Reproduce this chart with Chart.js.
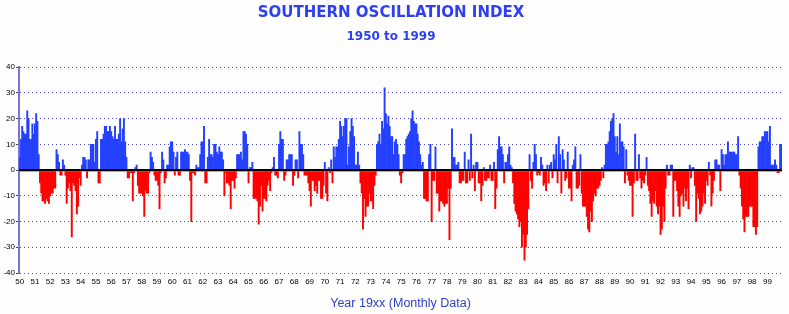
<!DOCTYPE html>
<html><head><meta charset="utf-8">
<script src="https://cdn.jsdelivr.net/npm/chart.js@4.4.0/dist/chart.umd.min.js"></script>
<style>html,body{margin:0;padding:0;background:#fefefe;}#wrap{width:789px;height:314px;position:relative}</style>
</head><body><div id="wrap"><canvas id="c" width="789" height="314"></canvas></div>
<script>
// Monthly SOI values, Jan..Dec for each year
const soi1950s = [
  5, 12, 17, 15, 14, 14, 23, 20, 12, 12, 18, 14,
  18, 22, 19, 6, -5, -9, -12, -12, -13, -11, -12, -13,
  -10, -9, -9, -7, -7, 8, 6, 3, -2, -2, 4, 2,
  -2, -13, -7, -5, -8, -26, -5, -6, -8, -17, -14, -3,
  -6, 2, 5, 5, 4, -3, 4, 4, 10, 10, 10, 3,
  12, 15, -5, -5, 12, 12, 14, 17, 17, 15, 15, 17,
  15, 13, 12, 17, 12, 12, 14, 20, 11, 16, 20, 11,
  5, -3, -3, -1, -1, -12, -1, 1, 2, -6, -9, -9,
  -9, -10, -18, -8, -9, -9, -1, 7, 5, 3, -2, -4,
  -4, -6, -15, -1, 7, 4, -5, -3, 2, 2, 9, 11
];
const soi1960s = [
  11, 7, -2, 5, 7, -2, -2, 7, 7, 7, 8, 7,
  7, 6, -4, -20, -1, -1, -2, 2, 1, 1, 6, 11,
  11, 17, -5, -5, 5, 12, 6, 6, 5, 10, 10, 7,
  6, 9, 7, 7, 4, -10, -1, -5, -5, -6, -15, -4,
  -4, -7, -3, 6, 6, 6, 7, 4, 15, 15, 14, 10,
  -5, 1, 1, 3, -11, -11, -11, -12, -21, -14, -6, -16,
  -11, -11, -12, -6, -4, -8, -1, 1, 5, -2, -2, -3,
  10, 15, 12, 12, -4, -2, 4, 4, 6, 6, 6, -6,
  -2, 4, 4, -3, 15, 10, 10, 6, -2, -2, -2, -5,
  -8, -14, -4, -4, -8, -6, -9, -4, -4, -11, -11, -6
];
const soi1970s = [
  3, -9, -12, 1, -1, 4, -5, 9, 5, 9, 9, 12,
  19, 17, 13, 17, 20, 20, 2, 9, 15, 20, 17, 13,
  2, 2, 7, 2, -5, -9, -23, -11, -18, -14, -14, -9,
  -12, -12, -15, -6, -2, 10, 11, 14, 10, 19, 16, 32,
  22, 18, 21, 17, 13, 13, 6, 11, 12, 10, 6, -2,
  -5, -1, 6, 6, 12, 13, 14, 15, 20, 23, 19, 18,
  18, 14, 11, 6, 2, 3, -11, -11, -12, -12, 6, 10,
  -20, -4, -4, 9, -9, -9, -16, -12, -12, -13, -14, -13,
  -13, -7, -27, -7, 16, 5, 5, 2, 2, 3, -5, -5,
  -4, -4, 7, -5, -5, 4, -4, 14, -3, 2, -8, 3
];
const soi1980s = [
  3, -5, -5, -12, -6, 1, -4, -4, -3, -3, 2, -4,
  -4, 3, -15, -7, 8, 13, 9, 9, 6, -5, 3, 3,
  6, 9, 2, 1, -5, -13, -16, -17, -19, -22, -20, -30,
  -25, -35, -30, -25, -15, 6, -4, -7, 3, 10, 6, -2,
  -1, -2, 5, 2, -6, -5, -8, 2, -5, 2, 3, -3,
  6, 4, 10, -5, 13, 6, -9, 8, 4, -4, -3, 7,
  -7, -7, -12, 2, 4, 9, -7, -7, -6, 6, -9, -14,
  -14, -14, -18, -23, -24, -16, -20, -12, -9, -10, -7, -7,
  -6, -4, 1, -3, 2, 10, 10, 11, 15, 19, 20, 22,
  13, 7, 13, 6, 18, 11, 11, 9, -5, 8, -2, -4
];
const soi1990s = [
  -6, -6, -18, -5, 14, -4, -4, 6, -3, -7, -4, -5,
  -2, 5, -6, -8, -13, -18, -12, -13, -8, -14, -17, -14,
  -25, -23, -14, -20, -7, 2, -2, -2, 2, 2, -18, -4,
  -4, -8, -14, -18, -10, -9, -14, -7, -12, -7, -15, 2,
  -3, 1, 1, -6, -20, -9, -11, -17, -16, -14, -9, -13,
  -4, -6, 3, -2, -14, -9, -4, 4, 4, 2, 2, -8,
  8, 6, 2, 6, 6, 11, 7, 7, 7, 7, 7, 6,
  6, 13, -2, -7, -14, -19, -24, -18, -18, -18, -14, -14,
  -14, -22, -22, -25, -22, 9, 11, 11, 13, 13, 15, 15,
  15, 11, 17, 2, 2, 2, 4, 2, -1, -1, 10, 10
];
const yearLabels = ['50','51','52','53','54','55','56','57','58','59',
  '60','61','62','63','64','65','66','67','68','69',
  '70','71','72','73','74','75','76','77','78','79',
  '80','81','82','83','84','85','86','87','88','89',
  '90','91','92','93','94','95','96','97','98','99'];
const yTicks = [-40, -30, -20, -10, 0, 10, 20, 30, 40];

const values = [].concat(soi1950s, soi1960s, soi1970s, soi1980s, soi1990s);
const monthLabels = values.map((v, i) => (i % 12 === 0 ? yearLabels[i / 12] : ''));

const BLUE = 'rgb(36,64,255)';
const RED = 'rgb(255,0,0)';

const zeroLine = {
  id: 'zeroLine',
  afterDatasetsDraw(chart) {
    const { ctx, chartArea: a, scales: { y } } = chart;
    const py = Math.round(y.getPixelForValue(0));
    ctx.save();
    ctx.strokeStyle = '#000';
    ctx.lineWidth = 2;
    ctx.beginPath();
    ctx.moveTo(a.left, py);
    ctx.lineTo(a.right, py);
    ctx.stroke();
    ctx.strokeStyle = 'rgba(120,120,120,0.6)';
    ctx.lineWidth = 1;
    ctx.beginPath();
    ctx.moveTo(a.left, py + 1.5);
    ctx.lineTo(a.right, py + 1.5);
    ctx.stroke();
    ctx.restore();
  }
};

new Chart(document.getElementById('c'), {
  type: 'bar',
  data: {
    labels: monthLabels,
    datasets: [{
      data: values,
      backgroundColor: values.map(v => (v >= 0 ? BLUE : RED)),
      borderWidth: 0,
      barPercentage: 1,
      categoryPercentage: 1
    }]
  },
  options: {
    responsive: false,
    animation: false,
    devicePixelRatio: 1,
    layout: { padding: { left: 0, right: 7, top: 0, bottom: 0 } },
    plugins: {
      legend: { display: false },
      tooltip: { enabled: false },
      title: {
        display: true,
        text: 'SOUTHERN OSCILLATION INDEX',
        color: '#2d3ff5',
        font: { family: '"DejaVu Sans"', size: 15, weight: 'bold', lineHeight: 1.2 },
        padding: { top: 4, bottom: 0 }
      },
      subtitle: {
        display: true,
        text: '1950 to 1999',
        color: '#2d3ff5',
        font: { family: '"DejaVu Sans"', size: 12, weight: 'bold', lineHeight: 1.2 },
        padding: { top: 8, bottom: 22.8 }
      }
    },
    scales: {
      x: {
        grid: { display: false, drawTicks: false },
        border: { display: false },
        ticks: {
          autoSkip: false, maxRotation: 0, minRotation: 0, padding: 4,
          color: '#000', font: { family: '"Liberation Sans"', size: 8 }
        },
        title: {
          display: true,
          text: 'Year 19xx (Monthly Data)',
          color: '#3040c8',
          font: { family: '"Liberation Sans"', size: 12.5 },
          padding: { top: 0, bottom: 3 }
        },
        afterFit: s => { s.height = 41; }
      },
      y: {
        min: -40, max: 40,
        afterBuildTicks: s => { s.ticks = yTicks.map(v => ({ value: v })); },
        ticks: { color: '#000', padding: 1, font: { family: '"Liberation Sans"', size: 8 } },
        grid: {
          color: c => (c.tick && c.tick.value === 0 ? 'rgba(0,0,0,0)' : '#4a4ae0'),
          lineWidth: 1, drawTicks: true, tickLength: 3, tickColor: '#444', tickWidth: 1
        },
        border: { display: true, color: '#7676d8', width: 2, dash: [1, 3] },
        afterFit: s => { s.width = 19; }
      }
    }
  },
  plugins: [zeroLine]
});
</script>
</body></html>
